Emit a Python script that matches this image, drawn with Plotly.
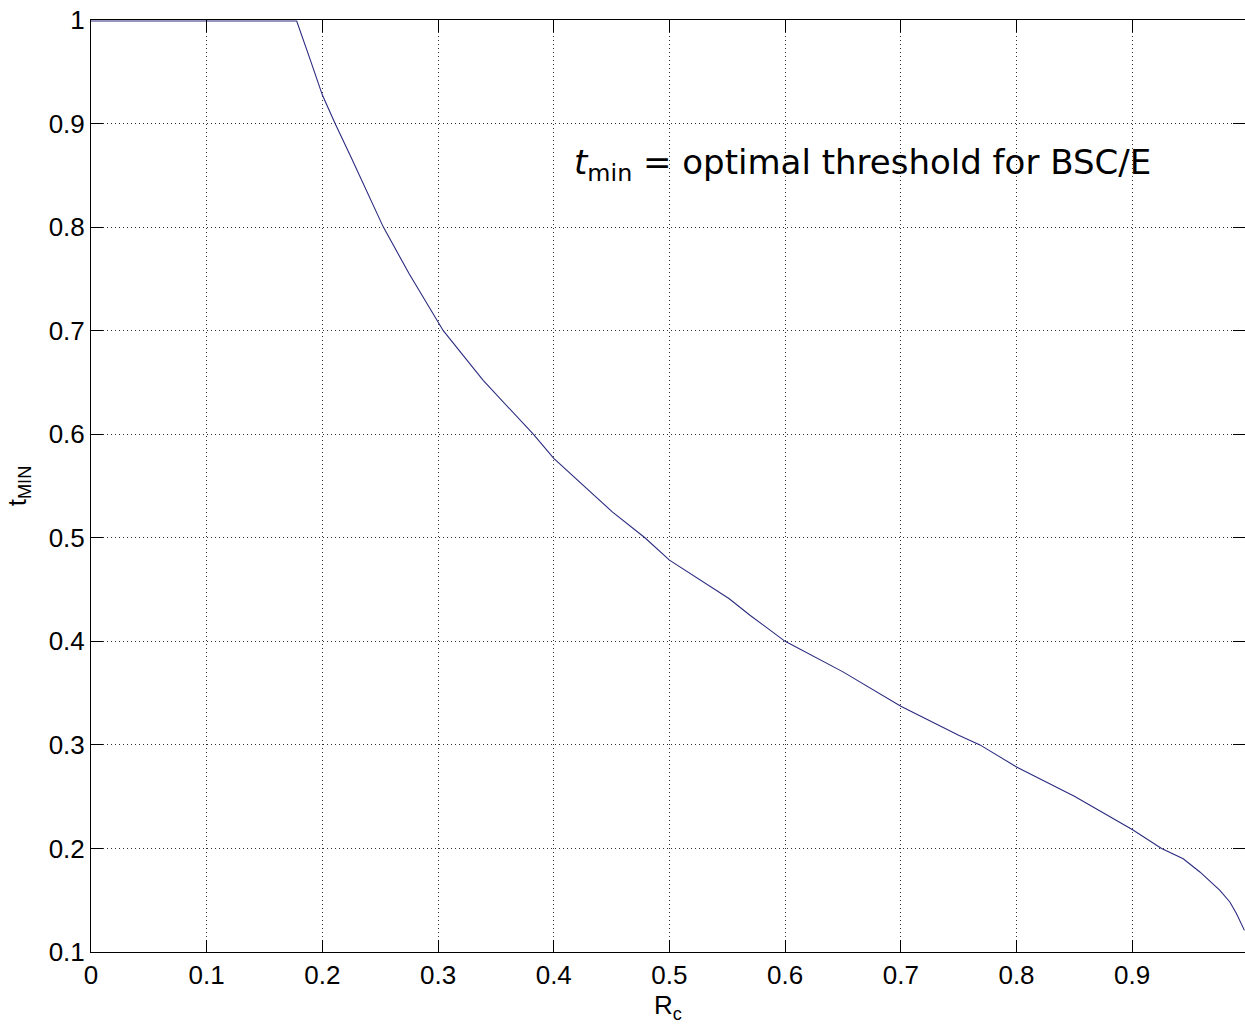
import plotly.graph_objects as go

# Data
rc = [0.0, 0.1778, 0.19, 0.2, 0.211, 0.225, 0.2527, 0.275, 0.3045, 0.339, 0.3823,
      0.4, 0.4506, 0.4788, 0.5, 0.5514, 0.5696, 0.6, 0.65, 0.7, 0.75, 0.7684,
      0.8, 0.85, 0.9, 0.9254, 0.9441, 0.9585, 0.9758, 0.9844, 0.9902, 0.997]
t_min = [0.999, 0.999, 0.96, 0.9275, 0.9, 0.867, 0.8, 0.755, 0.7, 0.652, 0.6,
         0.5766, 0.525, 0.5, 0.4784, 0.4413, 0.4252, 0.40, 0.3705, 0.3373, 0.3093, 0.3,
         0.2787, 0.2505, 0.2183, 0.2, 0.19, 0.1773, 0.1596, 0.1483, 0.137, 0.1209]

x_ticks = [0, 0.1, 0.2, 0.3, 0.4, 0.5, 0.6, 0.7, 0.8, 0.9]
x_tick_labels = ["0", "0.1", "0.2", "0.3", "0.4", "0.5", "0.6", "0.7", "0.8", "0.9"]
y_ticks = [0.1, 0.2, 0.3, 0.4, 0.5, 0.6, 0.7, 0.8, 0.9, 1.0]
y_tick_labels = ["0.1", "0.2", "0.3", "0.4", "0.5", "0.6", "0.7", "0.8", "0.9", "1"]

x_range = [0, 0.9975]
y_range = [0.1, 1.0]

FONT = "Liberation Sans, Arial, Helvetica, sans-serif"

fig = go.Figure()
fig.add_trace(go.Scatter(x=rc, y=t_min, mode="lines",
                         line=dict(color="#2b2b80", width=1.1),
                         showlegend=False, hoverinfo="skip"))
# invisible trace to activate right-side tick axis
fig.add_trace(go.Scatter(x=[rc[0]], y=[t_min[0]], yaxis="y2", mode="markers",
                         marker=dict(opacity=0), showlegend=False, hoverinfo="skip"))

axis_common = dict(
    showline=True, linecolor="black", linewidth=1,
    ticks="inside", ticklen=12, tickcolor="black", tickwidth=1,
    showgrid=True, gridcolor="#333333", griddash="1px,3px", gridwidth=1,
    zeroline=False,
    tickfont=dict(family=FONT, size=26, color="black"),
)

fig.update_layout(
    width=1245, height=1029,
    margin=dict(l=91, r=0, t=20, b=77),
    paper_bgcolor="white", plot_bgcolor="white",
    xaxis=dict(range=x_range, tickvals=x_ticks, ticktext=x_tick_labels,
               mirror="ticks",
               title=dict(text="R<sub>c</sub>", font=dict(family=FONT, size=26, color="black"),
                          standoff=6),
               **axis_common),
    yaxis=dict(range=y_range, tickvals=y_ticks, ticktext=y_tick_labels,
               title=dict(text="t<sub>MIN</sub>", font=dict(family=FONT, size=26, color="black"),
                          standoff=14),
               **axis_common),
    yaxis2=dict(range=y_range, overlaying="y", side="right", tickvals=y_ticks,
                showticklabels=False, ticks="inside", ticklen=12, tickcolor="black",
                showgrid=False, showline=False, zeroline=False),
    annotations=[dict(
        x=0.4157, y=0.86, xref="x", yref="y", xanchor="left", yanchor="middle",
        text="<i>t</i><sub>min</sub> = optimal threshold for BSC/E",
        showarrow=False,
        font=dict(family="DejaVu Sans, sans-serif", size=34, color="black"),
    )],
)

fig.write_html("out.html")
